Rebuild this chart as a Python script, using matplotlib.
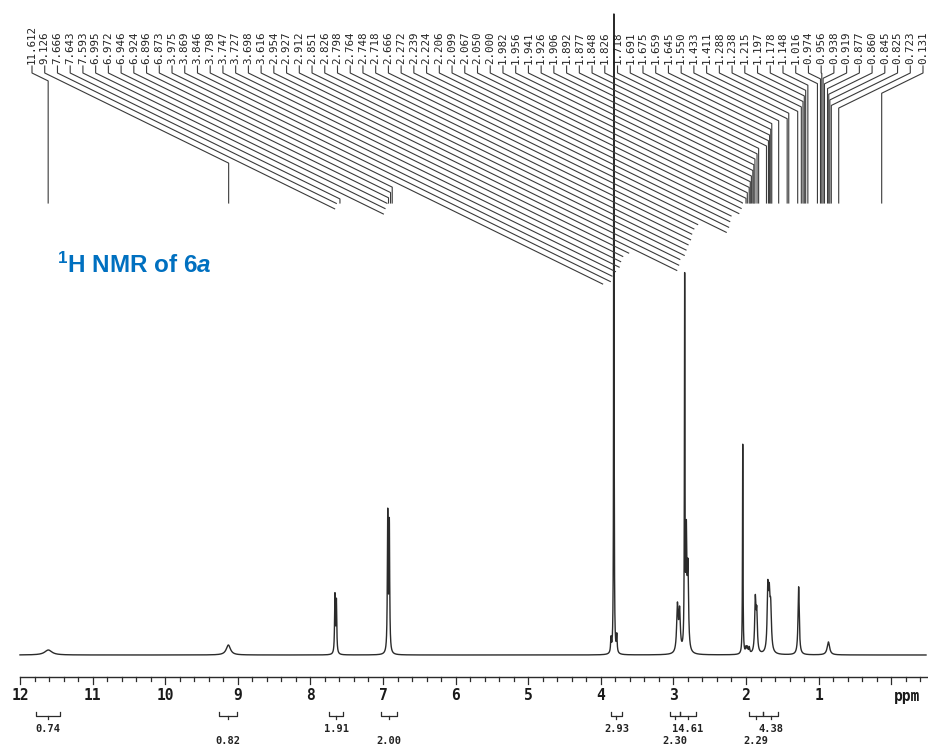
import numpy as np
import matplotlib
matplotlib.use("Agg")
import matplotlib.pyplot as plt

# ---------------- data ----------------
peak_labels = [11.612, 9.126, 7.666, 7.643, 7.593, 6.995, 6.972, 6.946, 6.924, 6.896,
               6.873, 3.975, 3.869, 3.846, 3.798, 3.747, 3.727, 3.698, 3.616, 2.954,
               2.927, 2.912, 2.851, 2.826, 2.798, 2.764, 2.748, 2.718, 2.666, 2.272,
               2.239, 2.224, 2.206, 2.099, 2.067, 2.050, 2.000, 1.982, 1.956, 1.941,
               1.926, 1.906, 1.892, 1.877, 1.848, 1.826, 1.718, 1.691, 1.675, 1.659,
               1.645, 1.550, 1.433, 1.411, 1.288, 1.238, 1.215, 1.197, 1.178, 1.148,
               1.016, 0.974, 0.956, 0.938, 0.919, 0.877, 0.860, 0.845, 0.825, 0.723,
               0.131]

# spectrum peaks (centre ppm, height above baseline, half width ppm)
peak_ppm    = [11.61, 9.13, 7.662, 7.642, 6.935, 6.913, 3.86, 3.82, 3.78,
               2.945, 2.915, 2.845, 2.822, 2.800, 2.045, 2.00, 1.98, 1.955,
               1.872, 1.852, 1.700, 1.680, 1.660, 1.275, 0.865]
peak_height = [5, 10, 58, 52, 138, 128, 14, 900, 17,
               46, 40, 365, 110, 80, 210, 6, 6, 6,
               52, 38, 58, 50, 40, 68, 13]
peak_hwhm   = [0.06, 0.035, 0.006, 0.006, 0.006, 0.006, 0.006, 0.003, 0.006,
               0.012, 0.012, 0.004, 0.008, 0.010, 0.004, 0.008, 0.008, 0.008,
               0.010, 0.010, 0.010, 0.012, 0.012, 0.010, 0.020]

# integrals
integ_start  = [11.78, 9.26, 7.74, 7.03, 3.86, 3.05, 2.91, 1.96, 1.76]
integ_end    = [11.45, 9.01, 7.55, 6.81, 3.71, 2.91, 2.69, 1.76, 1.56]
integ_values = ["0.74", "0.82", "1.91", "2.00", "2.93", "2.30", "14.61", "2.29", "4.38"]
integ_row    = [0, 1, 0, 1, 0, 1, 0, 1, 0]

tick_values = list(range(1, 13))

# ---------------- layout helpers ----------------
W, H = 929, 746
PX_PER_PPM = 72.6
X0 = 20.0      # pixel of 12 ppm
BASE = 655.0   # pixel row of baseline


def ppm2px(p):
    return X0 + (12 - np.asarray(p)) * PX_PER_PPM


def px2ppm(x):
    return 12 - (np.asarray(x) - X0) / PX_PER_PPM


def py(y):
    return BASE - np.asarray(y)


fig = plt.figure(figsize=(W / 100, H / 100), dpi=100)
ax = fig.add_axes([0, 0, 1, 1])
ax.set_axis_off()
ax.set_xlim(px2ppm(0), px2ppm(W))
ax.set_ylim(py(H), py(0))

ink = "#2b2b2b"

# ---------------- spectrum ----------------
ppm = np.linspace(12.0, float(px2ppm(926)), 40000)
inten = np.zeros_like(ppm)
for c, h, w in zip(peak_ppm, peak_height, peak_hwhm):
    inten += h / (1 + ((ppm - c) / w) ** 2)
inten = np.minimum(inten, float(py(14)))
ax.plot(ppm, inten, color=ink, lw=1.0)

# ---------------- peak labels ----------------
n = len(peak_labels)
label_px = np.linspace(32, 923, n)
slope = 0.49
for xl, val in zip(label_px, peak_labels):
    ax.text(float(px2ppm(xl)), float(py(64)), f"{val:.3f}", rotation=90,
            ha="center", va="bottom", family="DejaVu Sans Mono",
            fontsize=7.8, color="#222222")
    xp = float(ppm2px(val))
    y1 = 73
    y2 = y1 + slope * abs(xp - xl)
    y3 = max(y2, 203)
    xs = [xl, xl, xp, xp]
    ys = [66, y1, y2, y3]
    ax.plot(px2ppm(xs), py(ys), color="#3a3a3a", lw=0.8)

# ---------------- axis ----------------
ax.plot([12.0, float(px2ppm(929))], [py(677), py(677)], color=ink, lw=1.0)
minor = np.arange(-0.4, 12.01, 0.2)
for m in minor:
    major = abs(m - round(m)) < 1e-6
    ln = 7 if major else 4
    ax.plot([m, m], [py(677), py(677 + ln)], color=ink, lw=0.9)
for t in tick_values:
    ax.text(t, float(py(696)), str(t), ha="center", va="center",
            family="DejaVu Sans Mono", fontsize=10.5, fontweight="bold",
            color="#1a1a1a")
ax.text(float(px2ppm(907)), float(py(696)), "ppm", ha="center", va="center",
        family="DejaVu Sans Mono", fontsize=10.5, fontweight="bold",
        color="#1a1a1a")

# ---------------- integrals ----------------
for s, e, v, r in zip(integ_start, integ_end, integ_values, integ_row):
    ybar = 716
    ax.plot([s, s, e, e], py([712, ybar, ybar, 712]), color=ink, lw=0.9)
    mid = (s + e) / 2
    ax.plot([mid, mid], py([ybar, ybar + 3]), color=ink, lw=0.9)
    ty = 729 if r == 0 else 741
    ax.text(mid, float(py(ty)), v, ha="center", va="center",
            family="DejaVu Sans Mono", fontsize=7.5, fontweight="bold",
            color="#222222")

# ---------------- title ----------------
plt.rcParams["mathtext.fontset"] = "custom"
plt.rcParams["mathtext.rm"] = "Liberation Sans:bold"
plt.rcParams["mathtext.bf"] = "Liberation Sans:bold"
plt.rcParams["mathtext.it"] = "Liberation Sans:bold:italic"
ax.text(float(px2ppm(57)), float(py(273)), r"$^{\mathbf{1}}$H NMR of 6$\mathit{a}$",
        ha="left", va="baseline", family="Liberation Sans", fontweight="bold",
        fontsize=17.5, color="#0070C0")

fig.savefig("out.png", dpi=100)
